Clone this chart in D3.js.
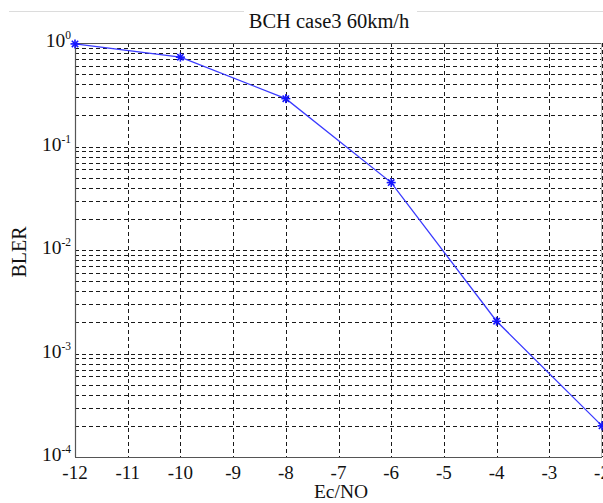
<!DOCTYPE html>
<html>
<head>
<meta charset="utf-8">
<script src="https://cdn.jsdelivr.net/npm/d3@7"></script>
<style>
  body { margin: 0; background: #fff; }
  svg text { font-family: "Liberation Serif", "DejaVu Serif", serif; fill: #111; }
</style>
</head>
<body>
<svg id="chart" width="603" height="503"></svg>
<script>
// chart values
const ecno = [-12, -10, -8, -6, -4, -2];
const bler = [0.98, 0.73, 0.29, 0.0448, 0.00205, 0.0002];
const xTicks = [-12, -11, -10, -9, -8, -7, -6, -5, -4, -3, -2];
const yDecades = [0, -1, -2, -3, -4];
const titleText = 'BCH case3 60km/h';
const xLabel = 'Ec/NO';
const yLabel = 'BLER';

const svg = d3.select('#chart');
const margin = {left: 75, right: 1, top: 43, bottom: 46};
const width = 603 - margin.left - margin.right;
const height = 503 - margin.top - margin.bottom;

const x = d3.scaleLinear().domain([-12, -2]).range([margin.left, margin.left + width]);
const y = d3.scaleLog().domain([1e-4, 1]).range([margin.top + height, margin.top]);

// faint line at the top, broken by the title
svg.append('line').attr('x1', 9).attr('x2', 244).attr('y1', 11.5).attr('y2', 11.5)
    .attr('stroke', '#dcdcdc');
svg.append('line').attr('x1', 417).attr('x2', 603).attr('y1', 11.5).attr('y2', 11.5)
    .attr('stroke', '#dcdcdc');

svg.append('text').attr('x', 329).attr('y', 28).attr('text-anchor', 'middle')
    .attr('font-size', 20.5).text(titleText);

// grid lines (major + minor decades)
const minorVals = [];
yDecades.forEach((d) => {
    for (let m = 1; m <= 9; m++) {
        const v = m * Math.pow(10, d - 1);
        if (v >= 1e-4 && v <= 1) minorVals.push(v);
    }
});
const grid = svg.append('g');
grid.selectAll('.hgrid').data(minorVals).enter().append('line').classed('hgrid', true)
    .attr('x1', margin.left).attr('x2', margin.left + width)
    .attr('y1', (d) => Math.round(y(d)) + 0.5).attr('y2', (d) => Math.round(y(d)) + 0.5)
    .attr('stroke', '#1a1a1a').attr('stroke-width', 1).attr('stroke-dasharray', '4,3');
grid.selectAll('.vgrid').data(xTicks).enter().append('line').classed('vgrid', true)
    .attr('x1', (d) => Math.round(x(d)) + 0.5).attr('x2', (d) => Math.round(x(d)) + 0.5)
    .attr('y1', margin.top).attr('y2', margin.top + height)
    .attr('stroke', '#1a1a1a').attr('stroke-width', 1).attr('stroke-dasharray', '4,3');

// axes frame
svg.append('line').attr('x1', margin.left).attr('x2', margin.left + width)
    .attr('y1', margin.top + 0.5).attr('y2', margin.top + 0.5).attr('stroke', '#555').attr('stroke-width', 1.2);
svg.append('line').attr('x1', margin.left).attr('x2', margin.left + width)
    .attr('y1', margin.top + height + 0.5).attr('y2', margin.top + height + 0.5).attr('stroke', '#555').attr('stroke-width', 1.2);
svg.append('line').attr('x1', margin.left + 0.5).attr('x2', margin.left + 0.5)
    .attr('y1', margin.top).attr('y2', margin.top + height).attr('stroke', '#555').attr('stroke-width', 1.2);
svg.append('line').attr('x1', margin.left + width - 0.5).attr('x2', margin.left + width - 0.5)
    .attr('y1', margin.top).attr('y2', margin.top + height).attr('stroke', '#bbb').attr('stroke-width', 1);

// x tick labels
svg.append('g').selectAll('text').data(xTicks).enter().append('text')
    .attr('x', (d) => x(d)).attr('y', margin.top + height + 22)
    .attr('text-anchor', 'middle').attr('font-size', 19)
    .text((d) => '-' + Math.abs(d));

// y tick labels (10^n)
const yl = svg.append('g').selectAll('text').data(yDecades).enter().append('text')
    .attr('x', margin.left - 4).attr('y', (d) => y(Math.pow(10, d)) + 4)
    .attr('text-anchor', 'end').attr('font-size', 19.5);
yl.append('tspan').text('10');
yl.append('tspan').attr('dy', -8).attr('font-size', 11.5).text((d) => d);

// axis labels
svg.append('text').attr('x', 341).attr('y', 498).attr('text-anchor', 'middle')
    .attr('font-size', 19.5).text(xLabel);
svg.append('text').attr('transform', 'translate(26,252) rotate(-90)')
    .attr('text-anchor', 'middle').attr('font-size', 20).text(yLabel);

// data line
const pts = ecno.map((e, i) => ({e: e, v: bler[i]}));
svg.append('path').datum(pts)
    .attr('d', d3.line().x((d) => x(d.e)).y((d) => y(d.v)))
    .attr('fill', 'none').attr('stroke', '#3a3aff').attr('stroke-width', 1.3);

// star markers
const star = svg.append('g').selectAll('g').data(pts).enter().append('g')
    .attr('transform', (d) => 'translate(' + x(d.e) + ',' + y(d.v) + ')');
[0, 45, 90, 135].forEach((a) => {
    star.append('line').attr('x1', -4.5).attr('x2', 4.5).attr('y1', 0).attr('y2', 0)
        .attr('transform', 'rotate(' + a + ')')
        .attr('stroke', '#1515ff').attr('stroke-width', 1.6);
});
</script>
</body>
</html>
